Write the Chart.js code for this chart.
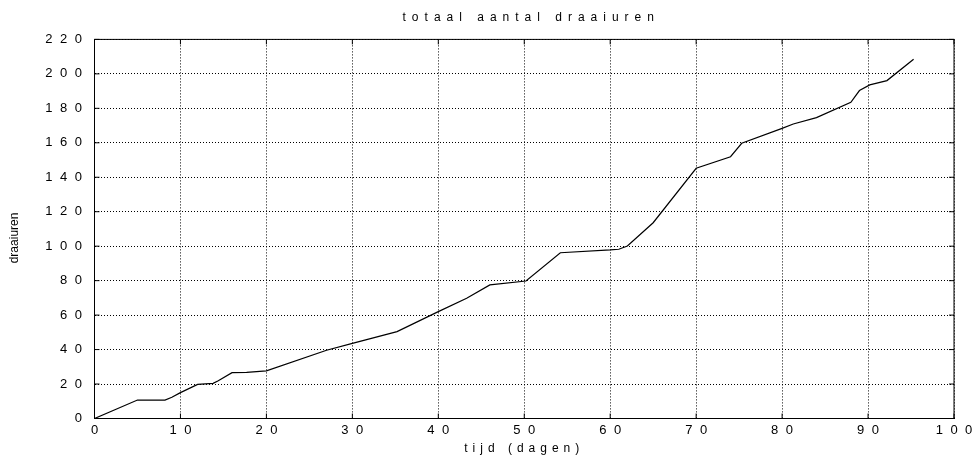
<!DOCTYPE html>
<html>
<head>
<meta charset="utf-8">
<script src="https://cdn.jsdelivr.net/npm/chart.js@4"></script>
<style>
  html, body { margin: 0; padding: 0; background: #fff; }
  #wrap { width: 973px; height: 456px; position: relative; }
</style>
</head>
<body>
<div id="wrap"><canvas id="myChart"></canvas></div>
<script>
// dagen en draaiuren
const dagen = [0, 5, 8.2, 9, 10, 12, 13.8, 14.4, 16, 17.7, 20, 27, 30, 35.2, 40, 43.3, 46, 50.2, 54.2,
  60, 61, 62, 65, 70, 74, 75.3, 80, 81.3, 84, 88, 89, 90.2, 92.2, 95.3];
const draaiuren = [0, 10.7, 10.7, 12.3, 15, 19.8, 20.4, 21.9, 26.6, 26.8, 27.6, 39.6, 43.6, 50.4, 62, 69.8, 77.5, 79.8, 96.2,
  97.8, 98.2, 100.1, 113.6, 145.2, 151.9, 159.7, 168.4, 170.9, 174.6, 183.5, 190.3, 193.6, 196.1, 208.5];
const xTicks = [0, 10, 20, 30, 40, 50, 60, 70, 80, 90, 100];
const yTicks = [0, 20, 40, 60, 80, 100, 120, 140, 160, 180, 200, 220];

let points = [];
for (let i = 0; i < dagen.length; i++) {
  points.push({x: dagen[i], y: draaiuren[i]});
}

Chart.defaults.color = '#000';
Chart.defaults.font.family = '"Liberation Sans", Arial, sans-serif';

// letterafstand zoals in het origineel
const spacing = {
  id: 'spacing',
  beforeDraw(chart) {
    const ctx = chart.ctx;
    ctx.letterSpacing = '7.5px';
    if (!chart._wrapped) {
      chart._wrapped = true;
      const wrap = (obj, name, ls, dx, dy) => {
        const orig = obj[name];
        obj[name] = function() {
          ctx.save();
          ctx.letterSpacing = ls;
          ctx.translate(dx, dy);
          orig.apply(this, arguments);
          ctx.restore();
        };
      };
      wrap(chart.scales.y, 'drawTitle', '0px', 0, 9);
      wrap(chart.scales.x, 'drawTitle', '5px', 0, 0);
      wrap(chart.titleBlock, 'draw', '6px', 7, 0);
    }
  }
};

// doorlopend kader met tickjes naar binnen
const frame = {
  id: 'frame',
  afterDraw(chart) {
    const {ctx, chartArea: a, scales} = chart;
    ctx.save();
    ctx.strokeStyle = '#000';
    ctx.lineWidth = 1;
    ctx.setLineDash([]);
    ctx.strokeRect(a.left, a.top, a.right - a.left, a.bottom - a.top);
    ctx.beginPath();
    yTicks.forEach(v => {
      const py = scales.y.getPixelForValue(v);
      ctx.moveTo(a.left, py); ctx.lineTo(a.left + 5, py);
      ctx.moveTo(a.right, py); ctx.lineTo(a.right - 5, py);
    });
    xTicks.forEach(v => {
      const px = scales.x.getPixelForValue(v);
      ctx.moveTo(px, a.bottom); ctx.lineTo(px, a.bottom - 5);
      ctx.moveTo(px, a.top); ctx.lineTo(px, a.top + 5);
    });
    ctx.stroke();
    ctx.restore();
  }
};

const ctx = document.getElementById("myChart").getContext('2d');
const myChart = new Chart(ctx, {
  type: 'scatter',
  data: {
    datasets: [{
      data: points,
      showLine: true,
      borderColor: '#000',
      borderWidth: 1.2,
      pointRadius: 0,
      tension: 0
    }]
  },
  options: {
    responsive: true,
    maintainAspectRatio: false,
    animation: false,
    events: [],
    layout: { padding: { left: 0, right: 19, top: 0, bottom: 0 } },
    plugins: {
      legend: { display: false },
      tooltip: { enabled: false },
      title: {
        display: true,
        fullSize: false,
        text: 'totaal aantal draaiuren',
        font: { size: 12, weight: 'normal' },
        padding: { top: 10, bottom: 15 }
      }
    },
    scales: {
      x: {
        type: 'linear',
        min: 0,
        max: 100,
        afterBuildTicks: s => { s.ticks = xTicks.map(v => ({value: v})); },
        afterFit: s => { s.height = 37.5; },
        ticks: { font: { size: 13 }, padding: 4, labelOffset: 3.75, maxRotation: 0, autoSkip: false },
        grid: { color: '#000', lineWidth: 1, drawTicks: false },
        border: { color: '#000', dash: [1, 2] },
        title: { display: true, text: 'tijd (dagen)', font: { size: 12 }, padding: { top: 1, bottom: 0 } }
      },
      y: {
        type: 'linear',
        min: 0,
        max: 220,
        afterBuildTicks: s => { s.ticks = yTicks.map(v => ({value: v})); },
        afterFit: s => { s.width = 94.5; },
        ticks: { font: { size: 13 }, padding: 5, autoSkip: false },
        grid: { color: '#000', lineWidth: 1, drawTicks: false },
        border: { color: '#000', dash: [1, 2] },
        title: { display: true, text: 'draaiuren', font: { size: 12 }, padding: { top: 7, bottom: 0 } }
      }
    }
  },
  plugins: [spacing, frame]
});
</script>
</body>
</html>
